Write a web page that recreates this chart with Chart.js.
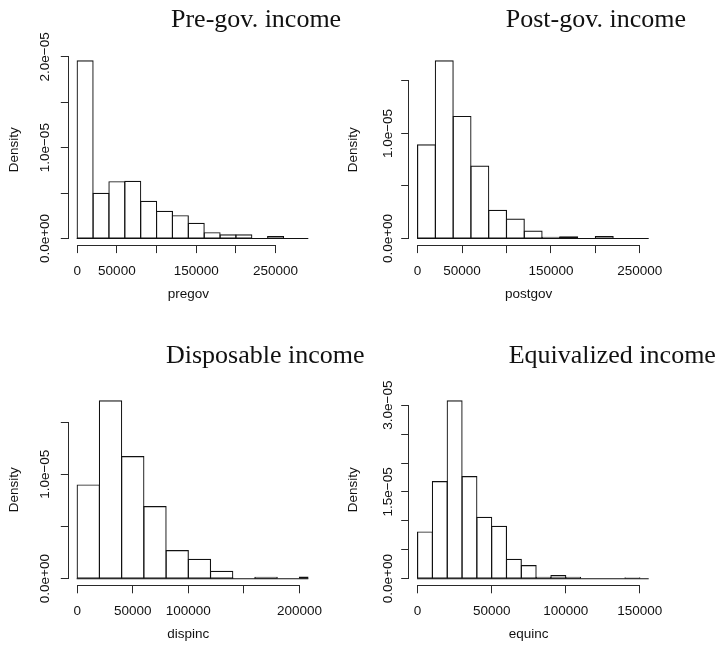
<!DOCTYPE html>
<html>
<head>
<meta charset="utf-8">
<script src="https://cdn.jsdelivr.net/npm/chart.js@4.4.1/dist/chart.umd.min.js"></script>
<style>
  html, body { margin: 0; padding: 0; background: #ffffff; }
  #wrap { position: relative; width: 718px; height: 653px; overflow: hidden; }
  #wrap canvas { position: absolute; left: 0; top: 0; }
</style>
</head>
<body>
<div id="wrap">
  <canvas id="hPregov" width="718" height="653"></canvas>
  <canvas id="hPostgov" width="718" height="653"></canvas>
  <canvas id="hDispinc" width="718" height="653"></canvas>
  <canvas id="hEquinc" width="718" height="653"></canvas>
</div>
<script>
// ---- histogram data: bin breaks and densities ----
const pregovBreaks = [0, 20000, 40000, 60000, 80000, 100000, 120000, 140000, 160000,
  180000, 200000, 220000, 240000, 260000, 280000, 300000];
const pregovDensity = [1.957e-5, 0.497e-5, 0.625e-5, 0.629e-5, 0.408e-5, 0.298e-5, 0.250e-5,
  0.166e-5, 0.063e-5, 0.040e-5, 0.039e-5, 0, 0.022e-5, 0, 0];

const postgovBreaks = [0, 20000, 40000, 60000, 80000, 100000, 120000, 140000, 160000,
  180000, 200000, 220000, 240000, 260000];
const postgovDensity = [0.892e-5, 1.692e-5, 1.162e-5, 0.689e-5, 0.267e-5, 0.184e-5, 0.070e-5,
  0.010e-5, 0.016e-5, 0, 0.019e-5, 0, 0];

const dispincBreaks = [0, 20000, 40000, 60000, 80000, 100000, 120000, 140000, 160000,
  180000, 200000, 220000];
const dispincDensity = [0.897e-5, 1.702e-5, 1.169e-5, 0.690e-5, 0.268e-5, 0.185e-5, 0.070e-5,
  0.006e-5, 0.013e-5, 0, 0.016e-5];

const equincBreaks = [0, 10000, 20000, 30000, 40000, 50000, 60000, 70000, 80000, 90000,
  100000, 110000, 120000, 130000, 140000, 150000, 160000];
const equincDensity = [0.807e-5, 1.678e-5, 3.074e-5, 1.765e-5, 1.061e-5, 0.905e-5, 0.334e-5,
  0.225e-5, 0.023e-5, 0.052e-5, 0.023e-5, 0, 0, 0, 0.017e-5, 0];

// upper end of each x range
const xUpper = [280000, 250000, 200000, 150000];

// ---- axis ticks and their labels ----
const pregovXTicks = [0, 50000, 100000, 150000, 200000, 250000];
const pregovXLabels = ['0', '50000', '', '150000', '', '250000'];
const postgovXTicks = [0, 50000, 100000, 150000, 200000, 250000];
const postgovXLabels = ['0', '50000', '', '150000', '', '250000'];
const dispincXTicks = [0, 50000, 100000, 150000, 200000];
const dispincXLabels = ['0', '50000', '100000', '', '200000'];
const equincXTicks = [0, 50000, 100000, 150000];
const equincXLabels = ['0', '50000', '100000', '150000'];

const pregovYTicks = [0, 0.5e-5, 1.0e-5, 1.5e-5, 2.0e-5];
const pregovYLabels = ['0.0e+00', '', '1.0e\u221205', '', '2.0e\u221205'];
const postgovYTicks = [0, 0.5e-5, 1.0e-5, 1.5e-5];
const postgovYLabels = ['0.0e+00', '', '1.0e\u221205', ''];
const dispincYTicks = [0, 0.5e-5, 1.0e-5, 1.5e-5];
const dispincYLabels = ['0.0e+00', '', '1.0e\u221205', ''];
const equincYTicks = [0, 0.5e-5, 1.0e-5, 1.5e-5, 2.0e-5, 2.5e-5, 3.0e-5];
const equincYLabels = ['0.0e+00', '', '', '1.5e\u221205', '', '', '3.0e\u221205'];

const panelTitles = ['Pre-gov. income', 'Post-gov. income', 'Disposable income', 'Equivalized income'];
const xNames = ['pregov', 'postgov', 'dispinc', 'equinc'];
const yName = 'Density';

// ---- page geometry for the 2x2 grid ----
const INK = '#111111';
const AXIS_INK = '#2a2a2a';
const SANS = '"Liberation Sans", Arial, Helvetica, sans-serif';
const SERIF = '"Liberation Serif", "Times New Roman", serif';
const W = 718, H = 653;
const frames = [
  { l: 68.3,  t: 53.7,  r: 308.3, b: 245.6, titleX: 171,   titleY: 27,  yTickX: 48.5, yNameX: 18,    xTickY: 275, xNameY: 298 },
  { l: 408.7, t: 53.7,  r: 648.7, b: 245.6, titleX: 505.7, titleY: 27,  yTickX: 392,  yNameX: 357,   xTickY: 275, xNameY: 298 },
  { l: 68.3,  t: 393.8, r: 308.3, b: 585.8, titleX: 166,   titleY: 363, yTickX: 48.5, yNameX: 18,    xTickY: 615, xNameY: 638 },
  { l: 408.7, t: 393.8, r: 648.7, b: 585.8, titleX: 508.7, titleY: 363, yTickX: 392,  yNameX: 357,   xTickY: 615, xNameY: 638 }
];

const alignPx = p => Math.round(p - 0.5) + 0.5;

// axis lines (tick span only), tick labels, axis names, panel title, base line
const rAxesPlugin = {
  id: 'rAxes',
  afterDatasetsDraw(chart, args, o) {
    const { ctx, chartArea: a, scales: { x, y } } = chart;
    ctx.save();
    ctx.lineWidth = 1;

    // base line under all bins
    ctx.save();
    ctx.beginPath();
    ctx.rect(a.left, a.top, a.right - a.left, a.bottom - a.top);
    ctx.clip();
    const y0 = y.getPixelForValue(0);
    ctx.strokeStyle = INK;
    ctx.lineWidth = 1.1;
    ctx.beginPath();
    ctx.moveTo(x.getPixelForValue(o.breaks[0]) - 0.5, y0);
    ctx.lineTo(x.getPixelForValue(o.breaks[o.breaks.length - 1]) + 0.5, y0);
    ctx.stroke();
    ctx.restore();

    ctx.strokeStyle = AXIS_INK;
    ctx.fillStyle = INK;

    // x axis line
    const xb = alignPx(a.bottom);
    ctx.beginPath();
    ctx.moveTo(alignPx(x.getPixelForValue(o.xTicks[0])) - 0.5, xb);
    ctx.lineTo(alignPx(x.getPixelForValue(o.xTicks[o.xTicks.length - 1])) + 0.5, xb);
    ctx.stroke();

    // y axis line
    const yl = alignPx(a.left);
    ctx.beginPath();
    ctx.moveTo(yl, alignPx(y.getPixelForValue(o.yTicks[0])) + 0.5);
    ctx.lineTo(yl, alignPx(y.getPixelForValue(o.yTicks[o.yTicks.length - 1])) - 0.5);
    ctx.stroke();

    // x tick labels
    ctx.font = '13.5px ' + SANS;
    ctx.textAlign = 'center';
    ctx.textBaseline = 'alphabetic';
    o.xTicks.forEach((v, i) => {
      if (o.xLabels[i]) ctx.fillText(o.xLabels[i], x.getPixelForValue(v), o.f.xTickY);
    });

    // y tick labels, written bottom to top
    o.yTicks.forEach((v, i) => {
      if (!o.yLabels[i]) return;
      ctx.save();
      ctx.translate(o.f.yTickX, y.getPixelForValue(v));
      ctx.rotate(-Math.PI / 2);
      ctx.fillText(o.yLabels[i], 0, 0);
      ctx.restore();
    });

    // axis names
    ctx.fillText(o.xName, (a.left + a.right) / 2, o.f.xNameY);
    ctx.save();
    ctx.translate(o.f.yNameX, (a.top + a.bottom) / 2);
    ctx.rotate(-Math.PI / 2);
    ctx.fillText(o.yName, 0, 0);
    ctx.restore();

    // panel title
    ctx.font = '26px ' + SERIF;
    ctx.textAlign = 'left';
    ctx.fillText(o.title, o.f.titleX, o.f.titleY);

    ctx.restore();
  }
};

function drawHistogram(canvasId, idx, breaks, density, xTicks, xLabels, yTicks, yLabels) {
  const f = frames[idx];
  const ymax = Math.max(...density);
  const xmax = xUpper[idx];
  const points = density.map((d, i) => ({ x: (breaks[i] + breaks[i + 1]) / 2, y: d }));

  return new Chart(document.getElementById(canvasId), {
    type: 'bar',
    data: {
      datasets: [{
        data: points,
        backgroundColor: 'rgba(0,0,0,0)',
        borderColor: INK,
        borderWidth: 0.001,
        inflateAmount: 0.58,
        borderSkipped: false,
        barPercentage: 1,
        categoryPercentage: 1,
        clip: 0
      }]
    },
    options: {
      responsive: false,
      animation: false,
      events: [],
      devicePixelRatio: 1,
      layout: { padding: { left: f.l, top: f.t, right: W - f.r, bottom: H - f.b } },
      plugins: {
        legend: { display: false },
        tooltip: { enabled: false },
        title: { display: false },
        rAxes: { f, breaks, xTicks, xLabels, yTicks, yLabels,
                 title: panelTitles[idx], xName: xNames[idx], yName }
      },
      scales: {
        x: {
          type: 'linear',
          offset: false,
          min: -0.04 * xmax,
          max: 1.04 * xmax,
          afterFit: s => { s.height = 0; },
          afterBuildTicks: s => { s.ticks = xTicks.map(v => ({ value: v })); },
          ticks: { display: false },
          grid: { display: true, offset: false, drawOnChartArea: false, drawTicks: true, tickLength: 7.5, color: AXIS_INK, lineWidth: 1 },
          border: { display: false }
        },
        y: {
          type: 'linear',
          offset: false,
          min: -0.04 * ymax,
          max: 1.04 * ymax,
          afterFit: s => { s.width = 0; },
          afterBuildTicks: s => { s.ticks = yTicks.map(v => ({ value: v })); },
          ticks: { display: false },
          grid: { display: true, offset: false, drawOnChartArea: false, drawTicks: true, tickLength: 7.5, color: AXIS_INK, lineWidth: 1 },
          border: { display: false }
        }
      }
    },
    plugins: [rAxesPlugin]
  });
}

drawHistogram('hPregov', 0, pregovBreaks, pregovDensity, pregovXTicks, pregovXLabels, pregovYTicks, pregovYLabels);
drawHistogram('hPostgov', 1, postgovBreaks, postgovDensity, postgovXTicks, postgovXLabels, postgovYTicks, postgovYLabels);
drawHistogram('hDispinc', 2, dispincBreaks, dispincDensity, dispincXTicks, dispincXLabels, dispincYTicks, dispincYLabels);
drawHistogram('hEquinc', 3, equincBreaks, equincDensity, equincXTicks, equincXLabels, equincYTicks, equincYLabels);
</script>
</body>
</html>
